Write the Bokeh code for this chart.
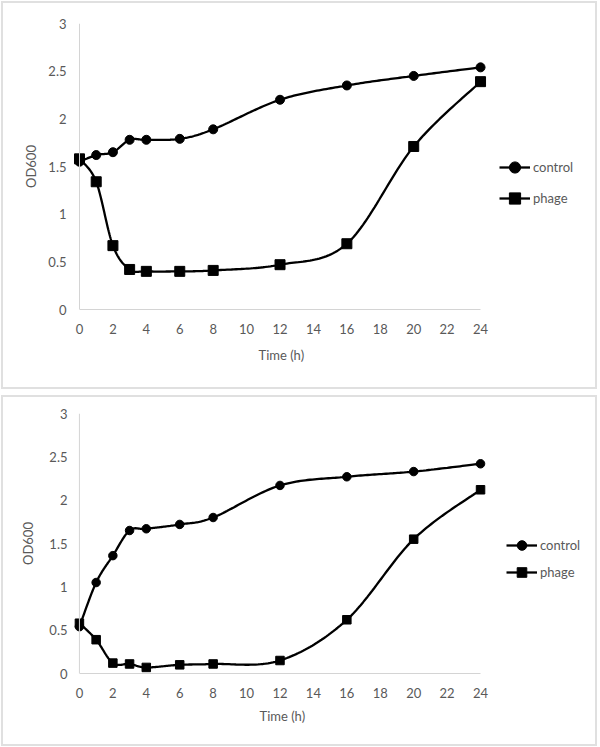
import numpy as np
from bokeh.plotting import figure
from bokeh.models import (FixedTicker, CustomJSTickFormatter, Legend, LegendItem,
                          Range1d, Span, Title)
from bokeh.layouts import column
from bokeh.embed import file_html
from bokeh.resources import INLINE

# ---- data ----
time_h = [0, 1, 2, 3, 4, 6, 8, 12, 16, 20, 24]
control_a = [1.55, 1.62, 1.65, 1.78, 1.78, 1.79, 1.89, 2.20, 2.35, 2.45, 2.54]
phage_a = [1.58, 1.34, 0.67, 0.42, 0.40, 0.40, 0.41, 0.47, 0.69, 1.71, 2.39]
control_b = [0.54, 1.05, 1.36, 1.65, 1.67, 1.72, 1.80, 2.17, 2.27, 2.33, 2.42]
phage_b = [0.58, 0.39, 0.12, 0.11, 0.07, 0.10, 0.11, 0.15, 0.62, 1.55, 2.12]
series_names = ["control", "phage"]
x_ticks = [0, 2, 4, 6, 8, 10, 12, 14, 16, 18, 20, 22, 24]
y_ticks = [0, 0.5, 1, 1.5, 2, 2.5, 3]
x_title = "Time (h)"
y_title = "OD600"

FONT = "Lato"
TXT = "#595959"
AX = "#d4d4d4"


def smooth(xs, ys, n=30):
    """Excel-like smoothed line (Catmull-Rom Bezier through the points)."""
    pts = np.column_stack([np.asarray(xs, float), np.asarray(ys, float)])
    m = len(pts)
    out = []
    t = np.linspace(0, 1, n)[:, None]
    for i in range(m - 1):
        p0 = pts[i - 1] if i > 0 else pts[i]
        p1, p2 = pts[i], pts[i + 1]
        p3 = pts[i + 2] if i + 2 < m else pts[i + 1]
        c1 = p1 + (p2 - p0) / 6.0
        c2 = p2 - (p3 - p1) / 6.0
        seg = ((1 - t) ** 3) * p1 + 3 * ((1 - t) ** 2) * t * c1 + 3 * (1 - t) * t ** 2 * c2 + t ** 3 * p2
        if i > 0:
            seg = seg[1:]
        out.append(seg)
    a = np.vstack(out)
    return a[:, 0], a[:, 1]


def panel(control, phage, height, margin, mtop, mbottom, mleft, mright, x_lo, x_hi,
          ystand, ylab_stand, title_off, title_stand, leg_loc, item_h, csize, ssize):
    p = figure(width=592, height=height, output_backend="svg", toolbar_location=None,
               x_range=Range1d(x_lo, x_hi), y_range=Range1d(0, 3),
               min_border_top=mtop, min_border_bottom=mbottom,
               min_border_left=mleft, min_border_right=mright,
               margin=margin,
               styles={"box-shadow": "0 0 0 2px #e0e0e0"})
    p.outline_line_color = None
    p.xgrid.visible = False
    p.ygrid.visible = False
    p.background_fill_color = "white"
    p.border_fill_color = "white"

    for ax in (p.xaxis[0], p.yaxis[0]):
        ax.axis_line_color = AX
        ax.axis_line_width = 1
        ax.major_tick_line_color = None
        ax.minor_tick_line_color = None
        ax.major_tick_out = 0
        ax.major_tick_in = 0
        ax.major_label_text_font = FONT
        ax.major_label_text_font_size = "13px"
        ax.major_label_text_color = TXT
        ax.axis_label_text_font = FONT
        ax.axis_label_text_font_size = "13px"
        ax.axis_label_text_font_style = "normal"
        ax.axis_label_text_color = TXT

    p.xaxis[0].ticker = FixedTicker(ticks=x_ticks)
    p.xaxis[0].bounds = (0, 24)
    p.xaxis[0].major_label_standoff = 14

    p.yaxis[0].ticker = FixedTicker(ticks=y_ticks)
    p.yaxis[0].formatter = CustomJSTickFormatter(code="return String(tick);")
    p.yaxis[0].axis_line_color = None
    p.yaxis[0].major_label_standoff = ystand
    p.yaxis[0].axis_label = y_title
    p.yaxis[0].axis_label_standoff = ylab_stand

    # visible y axis line sits at x = 0
    p.add_layout(Span(location=0, dimension="height", line_color=AX, line_width=1))

    p.add_layout(Title(text=x_title, align="left", offset=title_off, standoff=title_stand,
                       text_font=FONT, text_font_size="13px", text_font_style="normal",
                       text_color=TXT), "below")

    xc, yc = smooth(time_h, control)
    l1 = p.line(xc, yc, line_color="black", line_width=2.3)
    m1 = p.scatter(time_h, control, marker="circle", size=csize,
                   fill_color="black", line_color="black")
    xp, yp = smooth(time_h, phage)
    l2 = p.line(xp, yp, line_color="black", line_width=2.3)
    m2 = p.scatter(time_h, phage, marker="square", size=ssize,
                   fill_color="black", line_color="black")
    items = [LegendItem(label=series_names[0], renderers=[l1, m1]),
             LegendItem(label=series_names[1], renderers=[l2, m2])]

    leg = Legend(items=items, location=leg_loc, padding=0, margin=0, spacing=3,
                 glyph_width=31, glyph_height=item_h, label_height=item_h,
                 label_standoff=3, label_text_font=FONT, label_text_font_size="13px",
                 label_text_color=TXT, border_line_color=None,
                 background_fill_alpha=0)
    p.add_layout(leg, "center")
    return p


p1 = panel(control_a, phage_a, height=384, margin=(3, 0, 0, 3),
           mtop=20, mbottom=78, mleft=69, mright=5, x_lo=-0.419, x_hi=30.58,
           ystand=6, ylab_stand=6, title_off=186, title_stand=17,
           leg_loc=(427, 97), item_h=28, csize=9, ssize=10)
p2 = panel(control_b, phage_b, height=347, margin=(0, 0, 0, 3),
           mtop=16, mbottom=71, mleft=64, mright=5, x_lo=-0.415, x_hi=30.58,
           ystand=5, ylab_stand=10, title_off=187, title_stand=11,
           leg_loc=(434, 89), item_h=24, csize=8.5, ssize=8.5)

layout = column(p1, p2, spacing=10)

open("out.html", "w").write(file_html(layout, INLINE))
